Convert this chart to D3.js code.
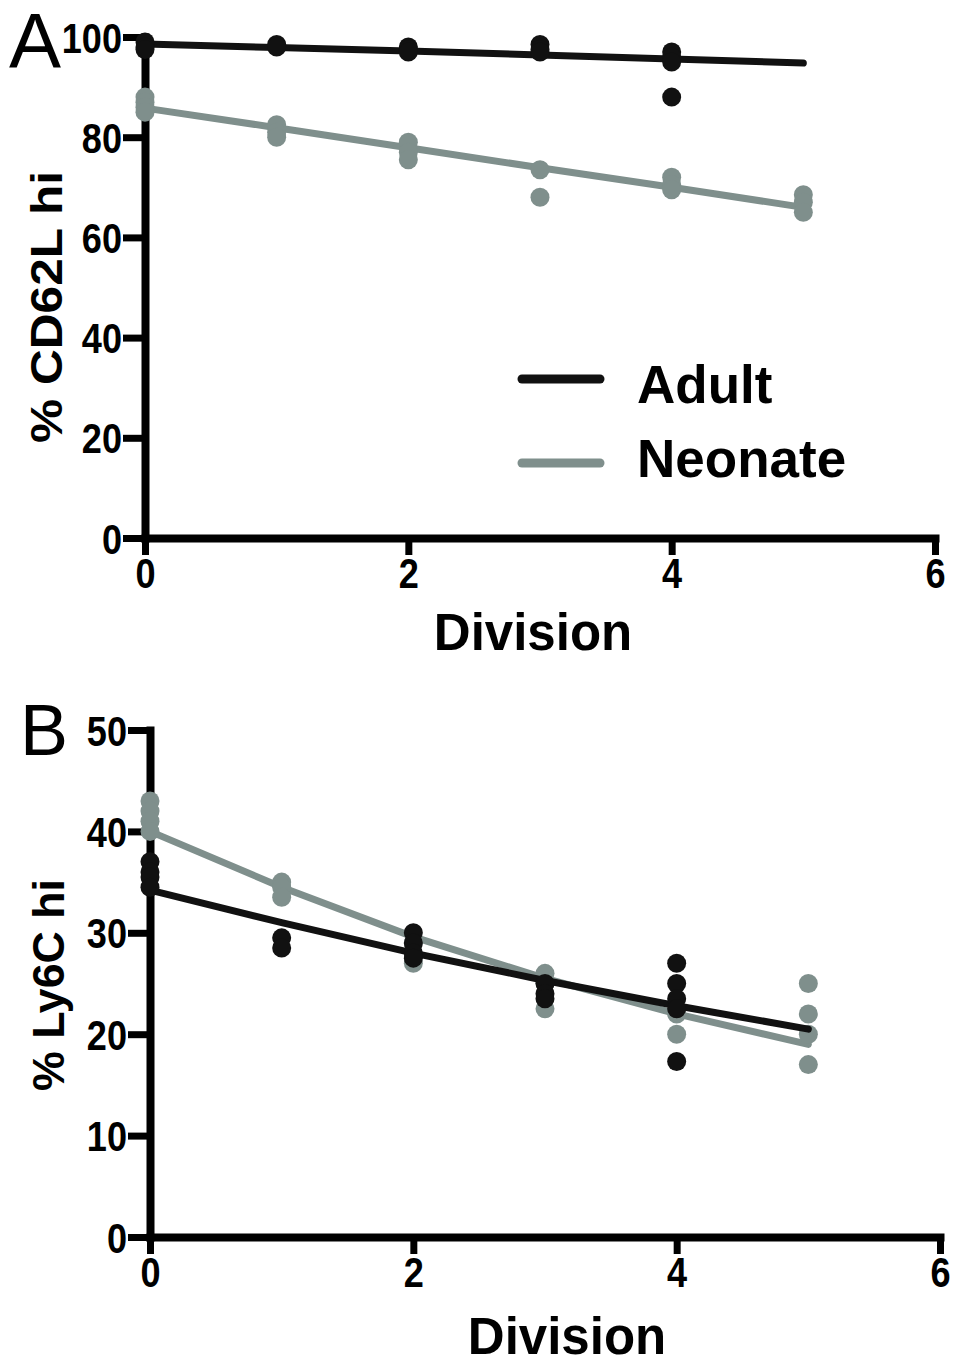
<!DOCTYPE html>
<html>
<head>
<meta charset="utf-8">
<script src="https://cdn.jsdelivr.net/npm/d3@7"></script>
<style>
  body { margin: 0; background: #fff; }
  text { font-family: "Liberation Sans", Arial, sans-serif; }
</style>
</head>
<body>
<div id="chart"></div>
<script>
// Division values on the x axis
const divisions = [0, 1, 2, 3, 4, 5];
const xTicks = [0, 2, 4, 6];

// Panel A: % CD62L hi, [division, value]
const cd62lAdult = [[0, 99], [0, 98], [0, 97.5], [1, 98.5], [1, 98], [2, 98], [2, 97.5], [2, 97],
  [3, 98.5], [3, 97.5], [3, 97], [4, 97], [4, 96], [4, 95], [4, 88]];
const cd62lNeonate = [[0, 88], [0, 87], [0, 86], [0, 85], [1, 82.5], [1, 81], [1, 80], [2, 79], [2, 77],
  [2, 75.5], [3, 73.5], [3, 68], [4, 72], [4, 70.5], [4, 69.5], [5, 68.5], [5, 67], [5, 65]];
const cd62lAdultFit = [98.6, 97.9, 97.2, 96.4, 95.6, 94.8];
const cd62lNeonateFit = [85.8, 81.9, 77.9, 73.9, 70, 66];
const cd62lTicks = [0, 20, 40, 60, 80, 100];

// Panel B: % Ly6C hi, [division, value]
const ly6cAdult = [[0, 37], [0, 36], [0, 35.5], [0, 34.5], [1, 29.5], [1, 28.5], [2, 30], [2, 29],
  [2, 28], [2, 27.5], [3, 25], [3, 24], [3, 23.5], [4, 27], [4, 25], [4, 23.5], [4, 22.5], [4, 17.3]];
const ly6cNeonate = [[0, 43], [0, 42], [0, 41], [0, 40], [1, 35], [1, 34.5], [1, 33.5], [2, 29], [2, 27],
  [3, 26], [3, 25], [3, 22.5], [4, 22], [4, 20], [5, 25], [5, 22], [5, 20], [5, 17]];
const ly6cAdultFit = [34.2, 31, 28, 25.3, 22.8, 20.5];
const ly6cNeonateFit = [40, 34.5, 29.6, 25.5, 22, 19];
const ly6cTicks = [0, 10, 20, 30, 40, 50];

const colors = { Adult: "#111111", Neonate: "#7f8f8c" };
const tickScale = 0.86; // tick numbers are drawn condensed

const svg = d3.select("#chart").append("svg")
  .attr("width", 955).attr("height", 1361);

function drawPanel(cfg) {
  const x = d3.scaleLinear().domain([0, 6]).range([cfg.left, cfg.right]);
  const y = d3.scaleLinear().domain([0, cfg.yMax]).range([cfg.bottom, cfg.top]);
  const g = svg.append("g");

  const xAxis = g.append("g")
    .attr("transform", `translate(0,${cfg.bottom})`)
    .call(d3.axisBottom(x).tickValues(xTicks).tickFormat(d3.format("d"))
      .tickSize(17).tickSizeOuter(0).tickPadding(3));
  const yAxis = g.append("g")
    .attr("transform", `translate(${cfg.left},0)`)
    .call(d3.axisLeft(y).tickValues(cfg.yTicks).tickFormat(d3.format("d"))
      .tickSize(22).tickSizeOuter(0).tickPadding(1));

  [xAxis, yAxis].forEach((ax) => {
    ax.select(".domain").attr("stroke", "#000").attr("stroke-width", 8).attr("stroke-linecap", "square");
    ax.selectAll(".tick line").attr("stroke", "#000").attr("stroke-width", 7);
    ax.selectAll(".tick text")
      .attr("fill", "#000")
      .style("font-size", "42px")
      .style("font-weight", "bold");
  });
  yAxis.selectAll(".tick text")
    .attr("dy", "0.36em")
    .attr("x", -23 / tickScale)
    .attr("transform", `scale(${tickScale},1)`);
  xAxis.selectAll(".tick text")
    .attr("transform", `scale(${tickScale},1)`);

  // Fitted lines and points, neonate under adult
  const line = d3.line()
    .x((d, i) => x(divisions[i]))
    .y((d) => y(d));
  [["Neonate", cfg.neonate, cfg.neonateFit], ["Adult", cfg.adult, cfg.adultFit]].forEach(([name, pts, fit]) => {
    g.append("path")
      .attr("d", line(fit))
      .attr("fill", "none")
      .attr("stroke", colors[name])
      .attr("stroke-width", 7)
      .attr("stroke-linecap", "round");
    g.selectAll(null)
      .data(pts)
      .join("circle")
      .attr("cx", (d) => x(d[0]))
      .attr("cy", (d) => y(d[1]))
      .attr("r", 9.5)
      .attr("fill", colors[name]);
  });

  // Axis labels
  g.append("text")
    .attr("x", cfg.xLabelX)
    .attr("y", cfg.xLabelY)
    .attr("text-anchor", "middle")
    .style("font-size", "51px")
    .style("font-weight", "bold")
    .text("Division");
  g.append("text")
    .attr("transform", `translate(${cfg.yLabelX},${cfg.yLabelY}) rotate(-90)`)
    .attr("text-anchor", "middle")
    .attr("textLength", cfg.yLabelLen)
    .attr("lengthAdjust", "spacingAndGlyphs")
    .style("font-size", "45px")
    .style("font-weight", "bold")
    .text(cfg.yLabel);

  // Panel letter
  g.append("text")
    .attr("x", cfg.letterX)
    .attr("y", cfg.letterY)
    .style("font-size", cfg.letterSize + "px")
    .text(cfg.letter);
}

drawPanel({
  letter: "A", letterX: 9, letterY: 68, letterSize: 78,
  left: 145, right: 935, top: 37, bottom: 538, yMax: 100,
  yTicks: cd62lTicks, xLabelX: 533, xLabelY: 650,
  yLabel: "% CD62L hi", yLabelX: 62, yLabelY: 307, yLabelLen: 272,
  adult: cd62lAdult, neonate: cd62lNeonate, adultFit: cd62lAdultFit, neonateFit: cd62lNeonateFit
});

drawPanel({
  letter: "B", letterX: 20, letterY: 755, letterSize: 72,
  left: 150, right: 940, top: 730, bottom: 1237, yMax: 50,
  yTicks: ly6cTicks, xLabelX: 567, xLabelY: 1354,
  yLabel: "% Ly6C hi", yLabelX: 64, yLabelY: 985, yLabelLen: 212,
  adult: ly6cAdult, neonate: ly6cNeonate, adultFit: ly6cAdultFit, neonateFit: ly6cNeonateFit
});

// Legend (panel A)
const legend = svg.append("g").selectAll("g")
  .data(["Adult", "Neonate"])
  .join("g")
  .attr("transform", (d, i) => `translate(522,${379 + i * 84})`);
legend.append("line")
  .attr("x1", 0).attr("x2", 78)
  .attr("stroke", (d) => colors[d])
  .attr("stroke-width", 9)
  .attr("stroke-linecap", "round");
legend.append("text")
  .attr("x", 115)
  .attr("y", (d, i) => 24 + i * -10)
  .style("font-size", "53px")
  .style("font-weight", "bold")
  .text((d) => d);
</script>
</body>
</html>
